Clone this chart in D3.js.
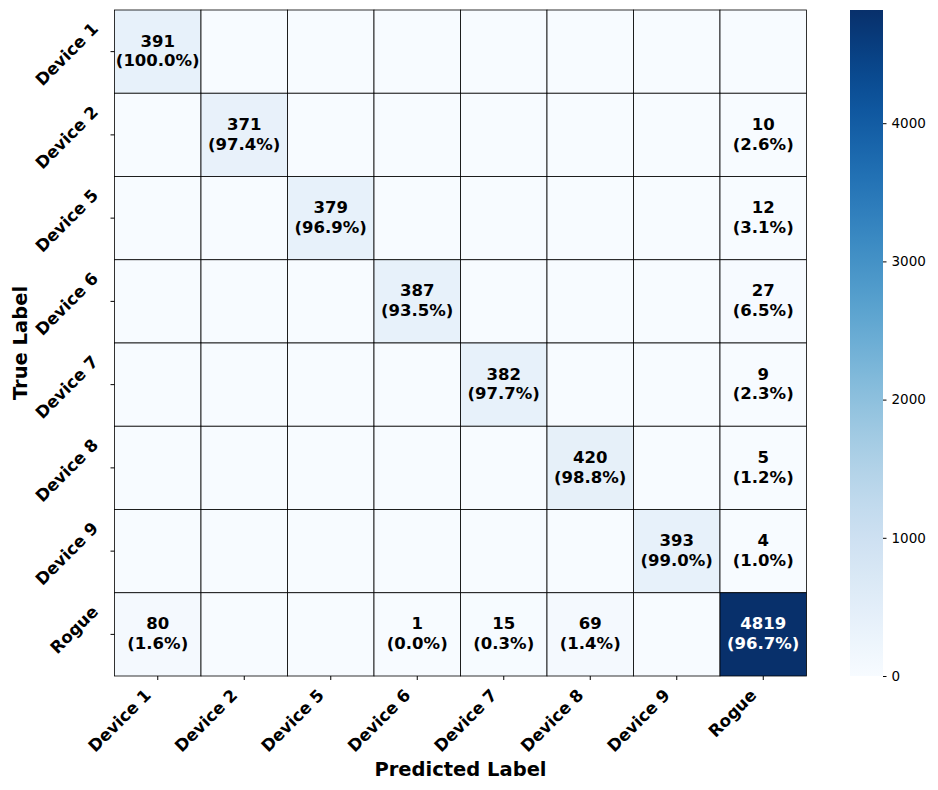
<!DOCTYPE html>
<html><head><meta charset="utf-8">
<script src="https://cdn.jsdelivr.net/npm/d3@7"></script>
<style>body{margin:0;background:#fff;} text{font-family:"DejaVu Sans",sans-serif;}</style>
</head><body>
<svg id="c" width="938" height="790"></svg>
<script>
const trueLabels = ["Device 1","Device 2","Device 5","Device 6","Device 7","Device 8","Device 9","Rogue"];
const predLabels = ["Device 1","Device 2","Device 5","Device 6","Device 7","Device 8","Device 9","Rogue"];
const row_device1 = [391,0,0,0,0,0,0,0];
const row_device2 = [0,371,0,0,0,0,0,10];
const row_device5 = [0,0,379,0,0,0,0,12];
const row_device6 = [0,0,0,387,0,0,0,27];
const row_device7 = [0,0,0,0,382,0,0,9];
const row_device8 = [0,0,0,0,0,420,0,5];
const row_device9 = [0,0,0,0,0,0,393,4];
const row_rogue   = [80,0,0,1,15,69,0,4819];
const matrix = [row_device1,row_device2,row_device5,row_device6,row_device7,row_device8,row_device9,row_rogue];
const colorbarTicks = [0,1000,2000,3000,4000];
const vmax = 4819;

const svg = d3.select("#c");
const L = 114.5, R = 806.5, T = 10, B = 676;
const x = d3.scaleBand().domain(predLabels).range([L,R]);
const y = d3.scaleBand().domain(trueLabels).range([T,B]);
const color = d3.scaleSequential(d3.interpolateBlues).domain([0,vmax]);

const cells = [];
matrix.forEach((row,i)=>{
  const sum = d3.sum(row);
  row.forEach((v,j)=>cells.push({r:trueLabels[i], c:predLabels[j], v, p: v/sum*100}));
});

svg.append("g").selectAll("rect").data(cells).join("rect")
  .attr("x",d=>x(d.c)).attr("y",d=>y(d.r))
  .attr("width",x.bandwidth()).attr("height",y.bandwidth())
  .attr("fill",d=>color(d.v)).attr("stroke","#000").attr("stroke-width",0.8);

const ann = svg.append("g").selectAll("text").data(cells.filter(d=>d.v>0)).join("text")
  .attr("x",d=>x(d.c)+x.bandwidth()/2)
  .attr("y",d=>y(d.r)+y.bandwidth()/2)
  .attr("text-anchor","middle")
  .attr("font-size","16.5px").attr("font-weight","bold")
  .attr("fill",d=>{const c=d3.lab(color(d.v)); return c.l<55?"#fff":"#000";});
ann.append("tspan").attr("x",d=>x(d.c)+x.bandwidth()/2).attr("dy","-0.3em").text(d=>d.v);
ann.append("tspan").attr("x",d=>x(d.c)+x.bandwidth()/2).attr("dy","1.2em").text(d=>"("+d.p.toFixed(1)+"%)");

// ticks
const gx = svg.append("g");
predLabels.forEach(l=>{
  const cx = x(l)+x.bandwidth()/2;
  gx.append("line").attr("x1",cx).attr("x2",cx).attr("y1",B).attr("y2",B+4).attr("stroke","#000");
  gx.append("text").attr("transform",`translate(${cx-10},${692}) rotate(-45)`)
    .attr("text-anchor","end").attr("dominant-baseline","central")
    .attr("font-size","16.7px").attr("font-weight","bold").text(l);
});
const gy = svg.append("g");
trueLabels.forEach(l=>{
  const cy = y(l)+y.bandwidth()/2;
  gy.append("line").attr("x1",L-4).attr("x2",L).attr("y1",cy).attr("y2",cy).attr("stroke","#000");
  gy.append("text").attr("transform",`translate(${95},${cy-26}) rotate(-45)`)
    .attr("text-anchor","end").attr("dominant-baseline","central")
    .attr("font-size","16.7px").attr("font-weight","bold").text(l);
});

svg.append("text").attr("x",(L+R)/2).attr("y",776).attr("text-anchor","middle")
  .attr("font-size","19.5px").attr("font-weight","bold").text("Predicted Label");
svg.append("text").attr("transform",`translate(27,${(T+B)/2}) rotate(-90)`).attr("text-anchor","middle")
  .attr("font-size","19.5px").attr("font-weight","bold").text("True Label");

// colorbar
const cbL = 850, cbW = 33;
const cy = d3.scaleLinear().domain([0,vmax]).range([B,T]);
const defs = svg.append("defs");
const grad = defs.append("linearGradient").attr("id","g").attr("x1",0).attr("y1",1).attr("x2",0).attr("y2",0);
d3.range(0,1.0001,0.05).forEach(t=>grad.append("stop").attr("offset",t).attr("stop-color",d3.interpolateBlues(t)));
svg.append("rect").attr("x",cbL).attr("y",T).attr("width",cbW).attr("height",B-T).attr("fill","url(#g)");
const cax = d3.axisRight(cy).tickValues(colorbarTicks).tickFormat(d3.format("d")).tickSize(3.5).tickPadding(5);
const cg = svg.append("g").attr("transform",`translate(${cbL+cbW},0)`).call(cax);
cg.select(".domain").remove();
cg.selectAll("text").attr("font-size","13.5px").attr("font-family","DejaVu Sans");
</script>
</body></html>
